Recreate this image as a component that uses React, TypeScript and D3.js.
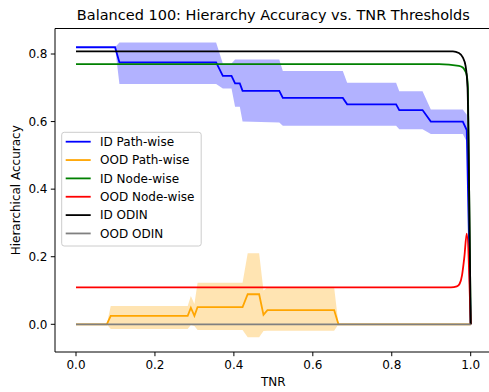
import React from "react";
import * as d3 from "d3";

const W = 489;
const H = 392;

// ID Path-wise (mean and band)
const idPathX = [0, 0.099, 0.11, 0.355, 0.372, 0.394, 0.403, 0.415, 0.422, 0.515, 0.524, 0.676, 0.687, 0.811, 0.819, 0.878, 0.899, 0.98, 0.99, 1.0];
const idPathMean = [0.82, 0.82, 0.775, 0.775, 0.735, 0.735, 0.713, 0.713, 0.691, 0.691, 0.67, 0.67, 0.651, 0.651, 0.634, 0.634, 0.6, 0.6, 0.575, 0.0];
const idPathUpper = [0.82, 0.82, 0.834, 0.834, 0.772, 0.772, 0.784, 0.784, 0.784, 0.784, 0.75, 0.75, 0.715, 0.715, 0.69, 0.69, 0.636, 0.636, 0.62, 0.0];
const idPathLower = [0.82, 0.82, 0.711, 0.711, 0.698, 0.698, 0.644, 0.644, 0.6, 0.597, 0.588, 0.588, 0.588, 0.588, 0.577, 0.577, 0.563, 0.563, 0.54, 0.0];

// OOD Path-wise (mean and band)
const oodPathX = [0, 0.078, 0.088, 0.283, 0.291, 0.3, 0.308, 0.422, 0.435, 0.464, 0.475, 0.485, 0.654, 0.665, 1.0];
const oodPathMean = [0, 0, 0.025, 0.025, 0.049, 0.025, 0.051, 0.051, 0.089, 0.089, 0.028, 0.042, 0.042, 0, 0];
const oodPathUpper = [0, 0, 0.054, 0.054, 0.084, 0.06, 0.123, 0.123, 0.21, 0.21, 0.1, 0.11, 0.11, 0, 0];
const oodPathLower = [0, 0, -0.014, -0.014, -0.002, -0.005, -0.017, -0.017, -0.038, -0.038, -0.02, -0.019, -0.019, 0, 0];

// ID Node-wise
const idNodeX = [0, 0.92, 0.97, 0.98, 0.985, 0.99, 0.993, 1.0];
const idNodeY = [0.77, 0.77, 0.765, 0.76, 0.752, 0.737, 0.7, 0.0];

// OOD Node-wise
const oodNodeX = [0, 0.95, 0.965, 0.972, 0.978, 0.984, 0.99, 1.0];
const oodNodeY = [0.109, 0.109, 0.112, 0.12, 0.145, 0.2, 0.268, 0.0];

// ID ODIN
const idOdinX = [0, 0.955, 0.97, 0.98, 0.987, 0.992, 0.995, 1.0];
const idOdinY = [0.808, 0.808, 0.803, 0.79, 0.765, 0.7, 0.5, 0.0];

// OOD ODIN
const oodOdinX = [0, 1.0];
const oodOdinY = [0, 0];

const xTicks = [0, 0.2, 0.4, 0.6, 0.8, 1.0];
const yTicks = [0, 0.2, 0.4, 0.6, 0.8];

const legendLabels = ["ID Path-wise", "OOD Path-wise", "ID Node-wise", "OOD Node-wise", "ID ODIN", "OOD ODIN"];
const legendColors = ["#0000ff", "#ffa500", "#008000", "#ff0000", "#000000", "#808080"];

const FONT = "DejaVu Sans, sans-serif";

export default function App() {
  const left = 55, right = 491, top = 28.5, bottom = 352;
  const x = d3.scaleLinear().domain([0, 1]).range([76, 470.7]);
  const y = d3.scaleLinear().domain([0, 0.8]).range([324.3, 54]);

  const pts = (xs: number[], ys: number[]) => xs.map((v, i) => [v, ys[i]] as [number, number]);
  const line = d3.line<[number, number]>().x(d => x(d[0])).y(d => y(d[1]));
  const smooth = d3.line<[number, number]>().x(d => x(d[0])).y(d => y(d[1])).curve(d3.curveMonotoneX);
  const area = (xs: number[], lo: number[], hi: number[]) =>
    d3.area<number>().x((_, i) => x(xs[i])).y0((_, i) => y(lo[i])).y1((_, i) => y(hi[i]))(xs) || "";

  const lw = 1.8;

  return (
    <svg width={W} height={H} style={{ position: "absolute", left: 0, top: 0, background: "#fff" }} fontFamily={FONT}>
      <defs>
        <clipPath id="plot">
          <rect x={left} y={top} width={right - left} height={bottom - top} />
        </clipPath>
      </defs>
      <rect x={0} y={0} width={W} height={H} fill="#fff" />
      <g clipPath="url(#plot)">
        <path d={area(idPathX, idPathLower, idPathUpper)} fill="#0000ff" fillOpacity={0.3} />
        <path d={line(pts(idPathX, idPathMean)) || ""} fill="none" stroke="#0000ff" strokeWidth={lw} />
        <path d={area(oodPathX, oodPathLower, oodPathUpper)} fill="#ffa500" fillOpacity={0.3} />
        <path d={line(pts(oodPathX, oodPathMean)) || ""} fill="none" stroke="#ffa500" strokeWidth={lw} />
        <path d={smooth(pts(idNodeX, idNodeY)) || ""} fill="none" stroke="#008000" strokeWidth={lw} />
        <path d={smooth(pts(oodNodeX, oodNodeY)) || ""} fill="none" stroke="#ff0000" strokeWidth={lw} />
        <path d={smooth(pts(idOdinX, idOdinY)) || ""} fill="none" stroke="#000000" strokeWidth={lw} />
        <path d={line(pts(oodOdinX, oodOdinY)) || ""} fill="none" stroke="#808080" strokeWidth={lw} />
      </g>
      {/* spines */}
      <line x1={left} x2={left} y1={top} y2={bottom} stroke="#000" strokeWidth={1} />
      <line x1={left} x2={right} y1={bottom} y2={bottom} stroke="#000" strokeWidth={1} />
      <line x1={left} x2={right} y1={top} y2={top} stroke="#000" strokeWidth={1} />
      {/* x ticks */}
      {xTicks.map(t => (
        <g key={"x" + t}>
          <line x1={x(t)} x2={x(t)} y1={bottom} y2={bottom + 4.2} stroke="#000" strokeWidth={1} />
          <text x={x(t)} y={bottom + 17} textAnchor="middle" fontSize={12} fill="#000">{t.toFixed(1)}</text>
        </g>
      ))}
      {/* y ticks */}
      {yTicks.map(t => (
        <g key={"y" + t}>
          <line x1={left - 4.2} x2={left} y1={y(t)} y2={y(t)} stroke="#000" strokeWidth={1} />
          <text x={left - 7.5} y={y(t)} dy="0.35em" textAnchor="end" fontSize={12} fill="#000">{t.toFixed(1)}</text>
        </g>
      ))}
      <text x={(76 + 470.7) / 2} y={386} textAnchor="middle" fontSize={12} fill="#000">TNR</text>
      <text transform={`translate(20,${(top + bottom) / 2}) rotate(-90)`} textAnchor="middle" fontSize={12} fill="#000">Hierarchical Accuracy</text>
      <text x={(76 + 470.7) / 2} y={20} textAnchor="middle" fontSize={14.5} fill="#000">Balanced 100: Hierarchy Accuracy vs. TNR Thresholds</text>
      {/* legend */}
      <g>
        <rect x={61.7} y={132.3} width={139.5} height={113.7} rx={2.5} fill="#fff" fillOpacity={0.8} stroke="#cccccc" strokeWidth={1} />
        {legendLabels.map((lab, i) => {
          const cy = 141.7 + i * 18.35;
          return (
            <g key={lab}>
              <line x1={65.7} x2={90.7} y1={cy} y2={cy} stroke={legendColors[i]} strokeWidth={lw} />
              <text x={100} y={cy} dy="0.35em" fontSize={12} fill="#000">{lab}</text>
            </g>
          );
        })}
      </g>
    </svg>
  );
}
